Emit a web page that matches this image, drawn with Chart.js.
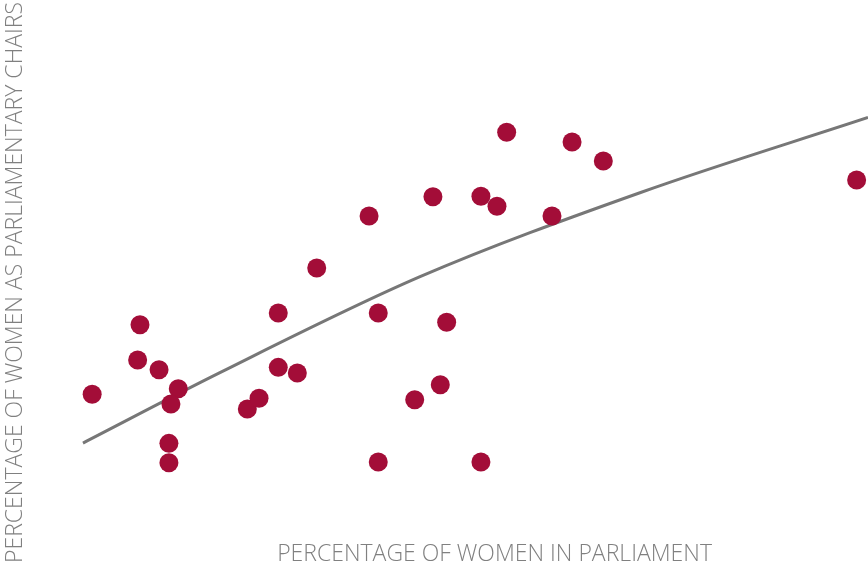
<!DOCTYPE html>
<html>
<head>
<meta charset="utf-8">
<script src="https://cdn.jsdelivr.net/npm/chart.js@4/dist/chart.umd.min.js"></script>
<style>
html,body{margin:0;padding:0;background:#fff;}
#wrap{width:868px;height:565px;}
</style>
</head>
<body>
<div id="wrap"><canvas id="c" width="868" height="565"></canvas></div>
<script>
const womenInParliament = [3.6, 6.46, 6.32, 7.6, 8.75, 8.31, 8.19, 8.19, 12.88, 13.58, 14.73, 14.73, 15.87, 17.03, 20.16, 20.71, 20.71, 22.89, 24.42, 23.98, 24.80, 26.85, 27.81, 28.39, 26.85, 31.1, 32.3, 34.17, 49.32];
const womenAsChairs = [13.01, 19.54, 16.23, 15.32, 13.54, 12.10, 8.41, 6.59, 11.63, 12.64, 20.64, 15.54, 15.01, 24.86, 29.74, 20.64, 6.66, 12.50, 13.91, 31.55, 19.77, 31.59, 30.65, 37.59, 6.66, 29.74, 36.68, 34.90, 33.11];
const trendX = [3.05, 11.24, 23.21, 36.36, 50];
const trendY = [8.44, 15.04, 24.04, 31.92, 38.98];
const xTitle = 'PERCENTAGE OF WOMEN IN PARLIAMENT';
const yTitle = 'PERCENTAGE OF WOMEN AS PARLIAMENTARY CHAIRS';

const points = womenInParliament.map((x, i) => ({x: x, y: womenAsChairs[i]}));
const trend = trendX.map((x, i) => ({x: x, y: trendY[i]}));

const fontFamily = "'Open Sans', 'Liberation Sans', sans-serif";
const titleFont = {family: fontFamily, size: 23, weight: '300'};
const titleColor = '#808080';

// x-axis title, centred under the right-hand part of the plot as in the original layout
const xTitlePlugin = {
  id: 'xTitle',
  afterDraw(chart) {
    const ctx = chart.ctx;
    const area = chart.chartArea;
    ctx.save();
    ctx.font = `${titleFont.weight} ${titleFont.size}px ${fontFamily}`;
    ctx.fillStyle = titleColor;
    ctx.textAlign = 'center';
    ctx.textBaseline = 'middle';
    ctx.fillText(xTitle, area.left + (area.right - area.left) * 0.555, area.bottom - 11);
    ctx.restore();
  }
};

new Chart(document.getElementById('c'), {
  type: 'scatter',
  data: {
    datasets: [
      {
        type: 'line',
        data: trend,
        borderColor: '#777777',
        borderWidth: 3,
        pointRadius: 0,
        fill: false,
        cubicInterpolationMode: 'monotone',
        order: 2
      },
      {
        data: points,
        backgroundColor: '#a30d38',
        borderColor: '#a30d38',
        borderWidth: 0,
        pointRadius: 9.5,
        pointHoverRadius: 9.5,
        order: 1
      }
    ]
  },
  options: {
    responsive: false,
    animation: false,
    layout: {padding: 0, autoPadding: false},
    plugins: {legend: {display: false}, tooltip: {enabled: false}},
    scales: {
      x: {
        type: 'linear', min: -0.19, max: 50,
        grid: {display: false, drawTicks: false}, border: {display: false},
        ticks: {display: false},
        title: {display: false}
      },
      y: {
        type: 'linear', min: -3.0, max: 50,
        grid: {display: false, drawTicks: false}, border: {display: false},
        ticks: {display: false},
        title: {display: true, text: yTitle, color: titleColor, font: titleFont, padding: {top: 1.2, bottom: 0}}
      }
    }
  },
  plugins: [xTitlePlugin]
});
</script>
</body>
</html>
